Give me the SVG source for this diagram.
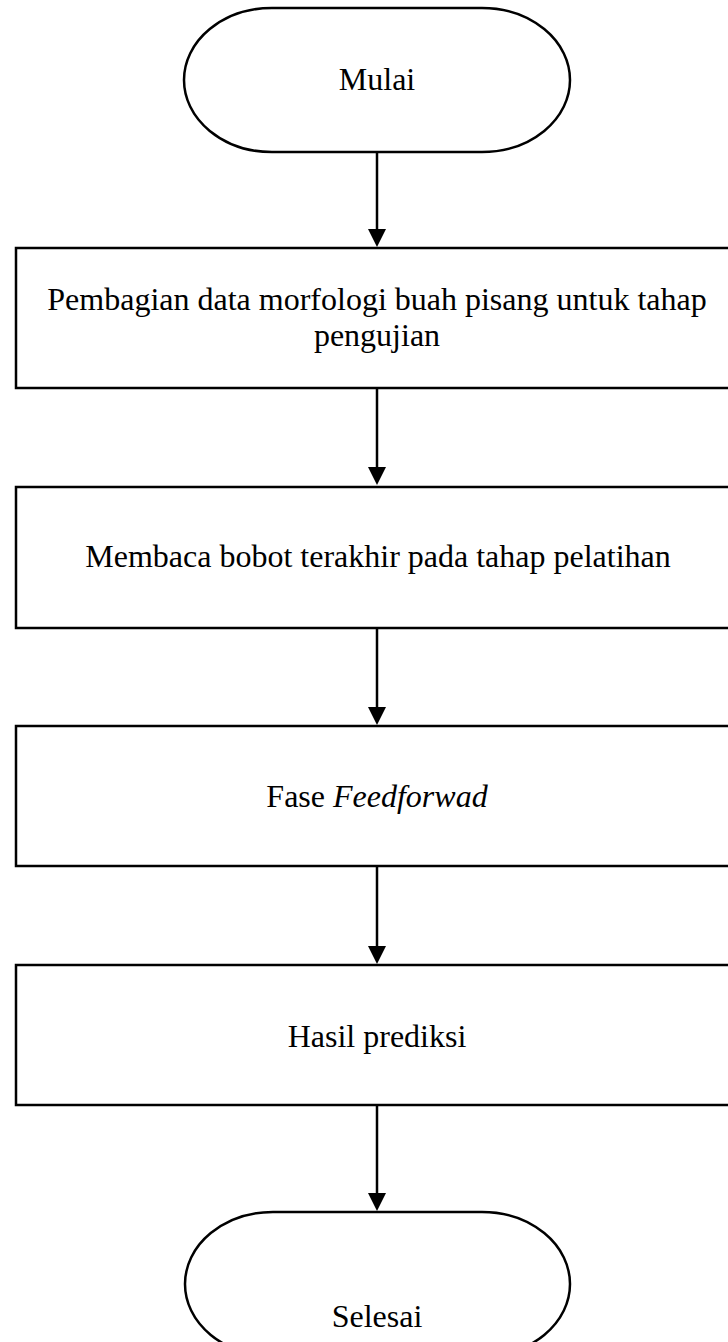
<svg xmlns="http://www.w3.org/2000/svg" width="728" height="1342" viewBox="0 0 728 1342">
<defs>
<style>
.shape{fill:#fff;stroke:#000;stroke-width:2.5}
.t{font-family:"Liberation Serif","Times New Roman",serif;font-size:32px;fill:#000;text-anchor:middle}
.c{stroke:#000;stroke-width:2.5;fill:none}
.ah{fill:#000}
</style>
</defs>
<g id="connectors">
<line class="c" x1="377" y1="152" x2="377" y2="229"/>
<path class="ah" d="M368,229 L386,229 L377,247 z"/>
<line class="c" x1="377" y1="388" x2="377" y2="467"/>
<path class="ah" d="M368,467 L386,467 L377,485 z"/>
<line class="c" x1="377" y1="628" x2="377" y2="707"/>
<path class="ah" d="M368,707 L386,707 L377,725 z"/>
<line class="c" x1="377" y1="866" x2="377" y2="946"/>
<path class="ah" d="M368,946 L386,946 L377,964 z"/>
<line class="c" x1="377" y1="1105" x2="377" y2="1193"/>
<path class="ah" d="M368,1193 L386,1193 L377,1211 z"/>
</g>
<g id="start">
<rect class="shape" x="184" y="8" width="386" height="144" rx="88" ry="72"/>
<text class="t" x="377" y="90">Mulai</text>
</g>
<g id="step1">
<rect class="shape" x="16" y="248" width="730" height="140"/>
<text class="t" x="377" y="310">Pembagian data morfologi buah pisang untuk tahap</text>
<text class="t" x="377" y="346">pengujian</text>
</g>
<g id="step2">
<rect class="shape" x="16" y="487" width="730" height="141"/>
<text class="t" x="378" y="567">Membaca bobot terakhir pada tahap pelatihan</text>
</g>
<g id="step3">
<rect class="shape" x="16" y="726" width="730" height="140"/>
<text class="t" x="377" y="807">Fase <tspan font-style="italic">Feedforwad</tspan></text>
</g>
<g id="step4">
<rect class="shape" x="16" y="965" width="730" height="140"/>
<text class="t" x="377" y="1047">Hasil prediksi</text>
</g>
<g id="end">
<rect class="shape" x="185" y="1212" width="385" height="144" rx="88" ry="72"/>
<text class="t" x="377" y="1327">Selesai</text>
</g>
</svg>
